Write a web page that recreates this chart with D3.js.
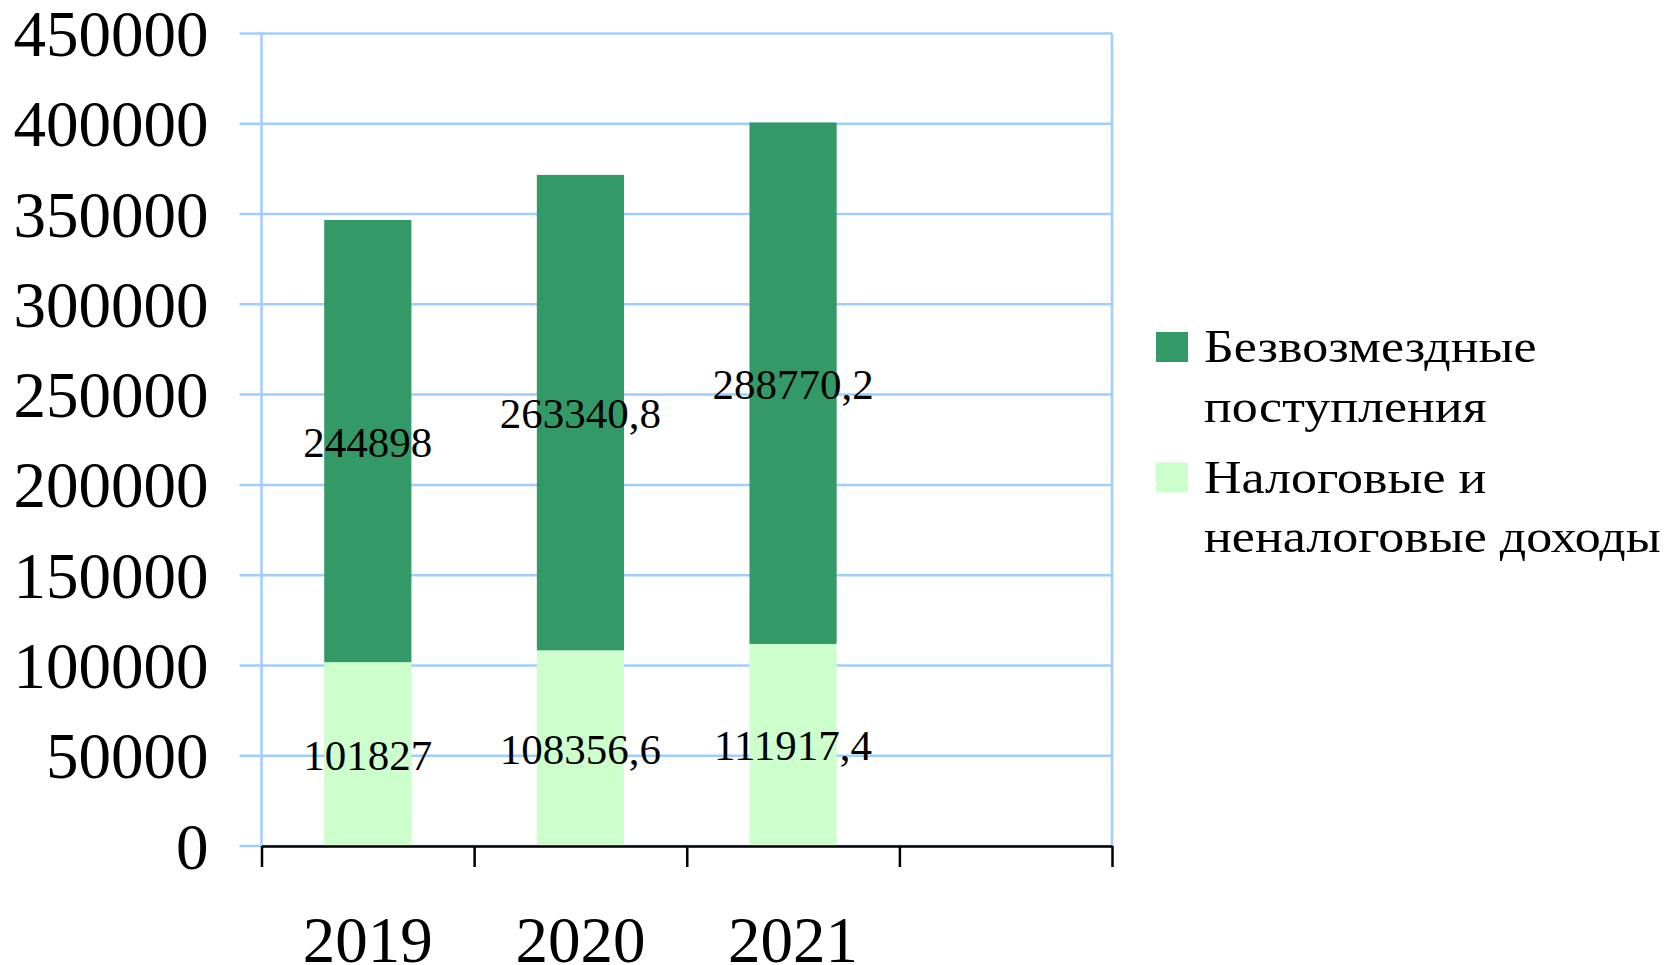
<!DOCTYPE html>
<html>
<head>
<meta charset="utf-8">
<script src="https://cdnjs.cloudflare.com/ajax/libs/d3/7.8.5/d3.min.js"></script>
<style>
body { margin: 0; background: #fff; }
svg { display: block; }
text { font-family: "Liberation Serif", "Times New Roman", serif; fill: #000; }
</style>
</head>
<body>
<div id="chart"></div>
<script>
// data
var years = ["2019", "2020", "2021", ""];
var taxIncome = [101827, 108356.6, 111917.4];
var transfers = [244898, 263340.8, 288770.2];
var taxLabels = ["101827", "108356,6", "111917,4"];
var transferLabels = ["244898", "263340,8", "288770,2"];
var yTicks = [0, 50000, 100000, 150000, 200000, 250000, 300000, 350000, 400000, 450000];
var seriesKeys = ["tax", "transfers"];
var seriesColors = {tax: "#ccffcc", transfers: "#339966"};
var legendNames = [["Безвозмездные", "поступления"], ["Налоговые и", "неналоговые доходы"]];
var legendKeys = ["transfers", "tax"];

var svgWidth = 1667, svgHeight = 965;
var margin = {top: 33.5, right: 555, bottom: 119, left: 261.5};
var width = svgWidth - margin.left - margin.right;
var height = svgHeight - margin.top - margin.bottom;

var svg = d3.select("#chart").append("svg")
	.attr("width", svgWidth)
	.attr("height", svgHeight);

var g = svg.append("g")
	.attr("transform", "translate(" + margin.left + "," + margin.top + ")");

var x = d3.scaleBand()
	.domain(years)
	.range([0, width])
	.paddingInner(0.59)
	.paddingOuter(0.295);

var y = d3.scaleLinear()
	.domain([0, 450000])
	.range([height, 0]);

// category boundaries for the x ticks
var xEdge = d3.scaleLinear()
	.domain([0, years.length])
	.range([0, width]);

var gridColor = "#9fcdfd";

//gridlines (with a little stub left of the axis)
g.append("g")
	.selectAll("line")
	.data(yTicks).enter()
		.append("line")
		.attr("x1", -22)
		.attr("x2", width)
		.attr("y1", function(d) { return y(d); })
		.attr("y2", function(d) { return y(d); })
		.attr("stroke", gridColor)
		.attr("stroke-width", 2.5);

// left and right border
g.append("line")
	.attr("x1", 0).attr("x2", 0)
	.attr("y1", y(450000)).attr("y2", y(0))
	.attr("stroke", gridColor)
	.attr("stroke-width", 2.5);
g.append("line")
	.attr("x1", width).attr("x2", width)
	.attr("y1", y(450000)).attr("y2", y(0))
	.attr("stroke", gridColor)
	.attr("stroke-width", 2.5);

//y labels
var yAxis = d3.axisLeft(y)
	.tickValues(yTicks)
	.tickSize(0)
	.tickPadding(53)
	.tickFormat(d3.format("d"));

g.append("g")
	.call(yAxis)
	.call(function(a) { a.select(".domain").remove(); })
	.selectAll("text")
		.attr("dy", "0.34em")
		.style("font-family", "'Liberation Serif', 'Times New Roman', serif")
		.style("font-size", "65px");

// stacked bars
var rows = years.slice(0, 3).map(function(yr, i) {
	return {year: yr, tax: taxIncome[i], transfers: transfers[i]};
});
var stacked = d3.stack().keys(seriesKeys)(rows);

g.append("g")
	.selectAll("g")
	.data(stacked).enter()
		.append("g")
		.attr("fill", function(d) { return seriesColors[d.key]; })
	.selectAll("rect")
	.data(function(d) { return d; }).enter()
		.append("rect")
		.attr("x", function(d) { return x(d.data.year); })
		.attr("y", function(d) { return y(d[1]); })
		.attr("width", x.bandwidth())
		.attr("height", function(d) { return y(d[0]) - y(d[1]); });

// x axis: black line with ticks at category edges
var xAxis = d3.axisBottom(xEdge)
	.tickValues(d3.range(years.length + 1))
	.tickSizeInner(21)
	.tickSizeOuter(0)
	.tickFormat("");

g.append("g")
	.attr("transform", "translate(0," + height + ")")
	.call(xAxis)
	.call(function(a) {
		a.selectAll("line, path").attr("stroke", "#000").attr("stroke-width", 2.5);
	});

// year labels
g.append("g")
	.selectAll("text")
	.data(years.slice(0, 3)).enter()
		.append("text")
		.attr("x", function(d) { return x(d) + x.bandwidth() / 2; })
		.attr("y", height + 115.5)
		.attr("text-anchor", "middle")
		.style("font-size", "65px")
		.text(function(d) { return d; });

// value labels in the middle of each segment
var labelText = {tax: taxLabels, transfers: transferLabels};
stacked.forEach(function(s) {
	g.append("g")
		.selectAll("text")
		.data(s).enter()
			.append("text")
			.attr("x", function(d) { return x(d.data.year) + x.bandwidth() / 2; })
			.attr("y", function(d) { return y((d[0] + d[1]) / 2); })
			.attr("dy", "0.36em")
			.attr("text-anchor", "middle")
			.style("font-size", "43px")
			.text(function(d, i) { return labelText[s.key][i]; });
});

// legend
var legend = svg.append("g")
	.attr("transform", "translate(1156,332)");

var item = legend.selectAll("g")
	.data(legendKeys).enter()
		.append("g")
		.attr("transform", function(d, i) { return "translate(0," + (i * 130.5) + ")"; });

item.append("rect")
	.attr("width", 32)
	.attr("height", 30)
	.attr("fill", function(d) { return seriesColors[d]; });

// the legend text in the picture is a bit wider than Liberation Serif
item.append("text")
	.attr("transform", "translate(48,30) scale(1.13,1)")
	.style("font-size", "46px")
	.selectAll("tspan")
	.data(function(d, i) { return legendNames[i]; }).enter()
		.append("tspan")
		.attr("x", 0)
		.attr("dy", function(d, i) { return i === 0 ? 0 : 60; })
		.text(function(d) { return d; });
</script>
</body>
</html>
